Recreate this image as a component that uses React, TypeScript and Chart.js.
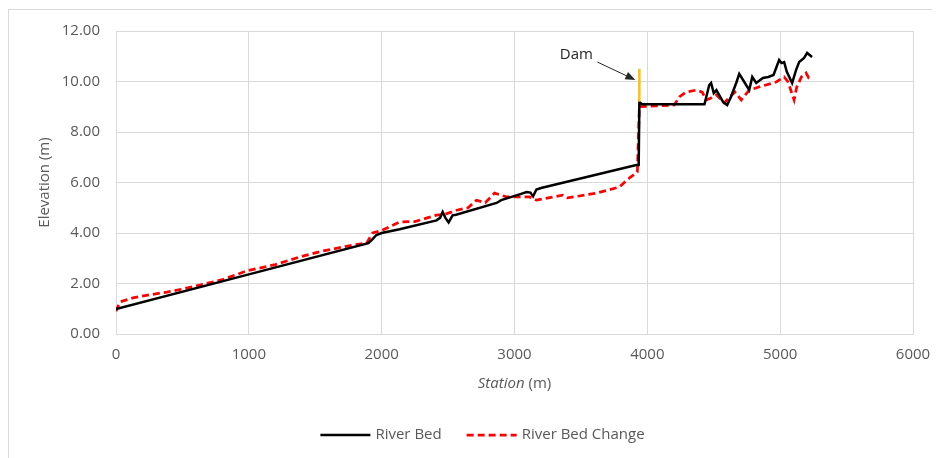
import React, { useEffect, useRef } from "react";
import { Chart, registerables } from "chart.js";

Chart.register(...registerables);

// ---- Data (station in m, elevation in m) ----
const riverBedStation = [
  0, 1000, 1900, 1930, 1960, 2000, 2135, 2413, 2440, 2459, 2480, 2504, 2534, 2560,
  2865, 2900, 3050, 3090, 3120, 3140, 3165, 3200, 3917, 3935, 3940, 3960, 4430,
  4466, 4480, 4500, 4520, 4570, 4601, 4630, 4669, 4692, 4730, 4767, 4790, 4820,
  4870, 4910, 4950, 4992, 5010, 5030, 5050, 5090, 5120, 5143, 5180, 5203, 5240,
];
const riverBedElev = [
  0.99, 2.36, 3.6, 3.75, 3.92, 4.0, 4.15, 4.5, 4.6, 4.83, 4.6, 4.42, 4.7, 4.72,
  5.19, 5.3, 5.55, 5.62, 5.6, 5.45, 5.72, 5.78, 6.69, 6.69, 9.19, 9.1, 9.1,
  9.86, 9.94, 9.54, 9.66, 9.19, 9.07, 9.4, 9.94, 10.3, 9.98, 9.66, 10.18, 9.94,
  10.14, 10.18, 10.26, 10.85, 10.73, 10.77, 10.38, 9.94, 10.46, 10.77, 10.93, 11.13, 10.97,
];

const bedChangeStation = [
  0, 30, 128, 250, 383, 500, 632, 800, 985, 1200, 1383, 1550, 1782, 1887, 1932,
  2000, 2135, 2250, 2413, 2480, 2564, 2650, 2714, 2780, 2850, 2940, 3113, 3165,
  3361, 3400, 3617, 3789, 3865, 3925, 3940, 4203, 4241, 4290, 4368, 4413, 4444,
  4480, 4520, 4579, 4620, 4660, 4707, 4767, 4840, 4970, 5030, 5060, 5105, 5125,
  5160, 5195, 5215, 5240,
];
const bedChangeElev = [
  0.9, 1.27, 1.43, 1.55, 1.66, 1.78, 1.94, 2.15, 2.5, 2.75, 3.05, 3.28, 3.52, 3.6, 4.0,
  4.1, 4.44, 4.45, 4.71, 4.75, 4.9, 5.0, 5.3, 5.2, 5.58, 5.43, 5.43, 5.3,
  5.5, 5.39, 5.58, 5.82, 6.18, 6.42, 9.0, 9.07, 9.39, 9.58, 9.66, 9.58, 9.27,
  9.35, 9.47, 9.15, 9.39, 9.58, 9.27, 9.66, 9.78, 9.98, 10.18, 9.98, 9.27, 9.78,
  10.18, 10.34, 10.14, 10.14,
];

// Dam annotation (data coordinates)
const damStation = 3940;
const damBase = 9.2;
const damTop = 10.5;
const damLabel = { x: 3466, y: 11.05, text: "Dam" };
const damArrowFrom = { x: 3624, y: 10.77 };
const damArrowTo = { x: 3910, y: 10.06 };

const xTicksMin = 0;
const xTicksMax = 6000;
const xTickStep = 1000;
const yTicksMin = 0;
const yTicksMax = 12;
const yTickStep = 2;

const seriesNames = ["River Bed", "River Bed Change"];
const xTitleItalic = "Station";
const xTitleNormal = " (m)";
const yTitle = "Elevation (m)";

const FONT = "'Open Sans', 'Noto Sans', sans-serif";
const TEXT = "#595959";
const GRID = "#d9d9d9";

const toPoints = (xs: number[], ys: number[]) => xs.map((x, i) => ({ x, y: ys[i] }));

const overlayPlugin = {
  id: "overlay",
  afterDraw(chart: any) {
    const { ctx, scales, chartArea } = chart;
    const xs = scales.x;
    const ys = scales.y;
    ctx.save();

    // Dam line
    ctx.strokeStyle = "#FFC000";
    ctx.lineWidth = 2.5;
    ctx.beginPath();
    ctx.moveTo(xs.getPixelForValue(damStation), ys.getPixelForValue(damBase));
    ctx.lineTo(xs.getPixelForValue(damStation), ys.getPixelForValue(damTop));
    ctx.stroke();

    // Arrow
    const ax0 = xs.getPixelForValue(damArrowFrom.x);
    const ay0 = ys.getPixelForValue(damArrowFrom.y);
    const ax1 = xs.getPixelForValue(damArrowTo.x);
    const ay1 = ys.getPixelForValue(damArrowTo.y);
    const ang = Math.atan2(ay1 - ay0, ax1 - ax0);
    ctx.strokeStyle = "#262626";
    ctx.fillStyle = "#262626";
    ctx.lineWidth = 1;
    ctx.beginPath();
    ctx.moveTo(ax0, ay0);
    ctx.lineTo(ax1 - 6 * Math.cos(ang), ay1 - 6 * Math.sin(ang));
    ctx.stroke();
    ctx.beginPath();
    ctx.moveTo(ax1, ay1);
    ctx.lineTo(ax1 - 10 * Math.cos(ang) + 4 * Math.sin(ang), ay1 - 10 * Math.sin(ang) - 4 * Math.cos(ang));
    ctx.lineTo(ax1 - 10 * Math.cos(ang) - 4 * Math.sin(ang), ay1 - 10 * Math.sin(ang) + 4 * Math.cos(ang));
    ctx.closePath();
    ctx.fill();

    // Dam label
    ctx.font = `15px ${FONT}`;
    ctx.fillStyle = "#262626";
    ctx.textAlign = "center";
    ctx.textBaseline = "middle";
    ctx.fillText(damLabel.text, xs.getPixelForValue(damLabel.x), ys.getPixelForValue(damLabel.y));

    // X axis title (mixed italic / normal)
    ctx.fillStyle = TEXT;
    ctx.font = `italic 15px ${FONT}`;
    const wI = ctx.measureText(xTitleItalic).width;
    ctx.font = `15px ${FONT}`;
    const wN = ctx.measureText(xTitleNormal).width;
    const cx = (chartArea.left + chartArea.right) / 2;
    const ty = chartArea.bottom + 50;
    let sx = cx - (wI + wN) / 2;
    ctx.textAlign = "left";
    ctx.font = `italic 15px ${FONT}`;
    ctx.fillText(xTitleItalic, sx, ty);
    ctx.font = `15px ${FONT}`;
    ctx.fillText(xTitleNormal, sx + wI, ty);

    // Legend
    const ly = chartArea.bottom + 101;
    const lineW = 50;
    const gap = 5;
    const between = 25;
    ctx.font = `15px ${FONT}`;
    const t0 = ctx.measureText(seriesNames[0]).width;
    const t1 = ctx.measureText(seriesNames[1]).width;
    const total = lineW + gap + t0 + between + lineW + gap + t1;
    let lx = chart.width / 2 + 8 - total / 2;
    chart.data.datasets.forEach((ds: any, i: number) => {
      ctx.strokeStyle = ds.borderColor;
      ctx.lineWidth = ds.borderWidth;
      ctx.setLineDash(ds.borderDash || []);
      ctx.beginPath();
      ctx.moveTo(lx, ly);
      ctx.lineTo(lx + lineW, ly);
      ctx.stroke();
      ctx.setLineDash([]);
      ctx.fillStyle = TEXT;
      ctx.fillText(seriesNames[i], lx + lineW + gap, ly);
      lx += lineW + gap + (i === 0 ? t0 : t1) + between;
    });

    ctx.restore();
  },
};

export default function App() {
  const ref = useRef<HTMLCanvasElement>(null);
  useEffect(() => {
    if (!ref.current) return;
    const chart = new Chart(ref.current, {
      type: "scatter",
      data: {
        datasets: [
          {
            label: seriesNames[0],
            data: toPoints(riverBedStation, riverBedElev),
            showLine: true,
            borderColor: "#000000",
            backgroundColor: "#000000",
            borderWidth: 2.5,
            pointRadius: 0,
            tension: 0,
          },
          {
            label: seriesNames[1],
            data: toPoints(bedChangeStation, bedChangeElev),
            showLine: true,
            borderColor: "#FF0000",
            backgroundColor: "#FF0000",
            borderWidth: 2.75,
            borderDash: [7, 4],
            pointRadius: 0,
            tension: 0,
          },
        ],
      },
      options: {
        animation: false,
        responsive: false,
        maintainAspectRatio: false,
        layout: { padding: { top: 21, right: 27, left: 0, bottom: 54 } },
        plugins: { legend: { display: false }, tooltip: { enabled: false } },
        scales: {
          x: {
            type: "linear",
            min: xTicksMin,
            max: xTicksMax,
            ticks: {
              stepSize: xTickStep,
              color: TEXT,
              font: { family: FONT, size: 15 },
              padding: 12,
              maxRotation: 0,
              callback: (v: any) => String(v),
            },
            grid: { color: GRID, drawTicks: false },
            border: { color: GRID },
            afterFit: (s: any) => {
              s.height = 70;
              s.paddingLeft = 0;
              s.paddingRight = 0;
            },
          },
          y: {
            min: yTicksMin,
            max: yTicksMax,
            ticks: {
              stepSize: yTickStep,
              color: TEXT,
              font: { family: FONT, size: 15 },
              padding: 16,
              callback: (v: any) => Number(v).toFixed(2),
            },
            title: { display: true, text: yTitle, color: TEXT, font: { family: FONT, size: 15 }, padding: { top: 27, bottom: 0 } },
            grid: { color: GRID, drawTicks: false },
            border: { color: GRID },
            afterFit: (s: any) => {
              s.width = 107;
              s.paddingTop = 0;
              s.paddingBottom = 0;
            },
          },
        },
      },
      plugins: [overlayPlugin],
    });
    return () => chart.destroy();
  }, []);

  return (
    <div style={{ marginTop: 1, borderTop: `1px solid ${GRID}`, borderLeft: `1px solid ${GRID}`, width: 931, height: 448, background: "#fff" }}>
      <canvas ref={ref} width={931} height={448} style={{ display: "block" }} />
    </div>
  );
}
